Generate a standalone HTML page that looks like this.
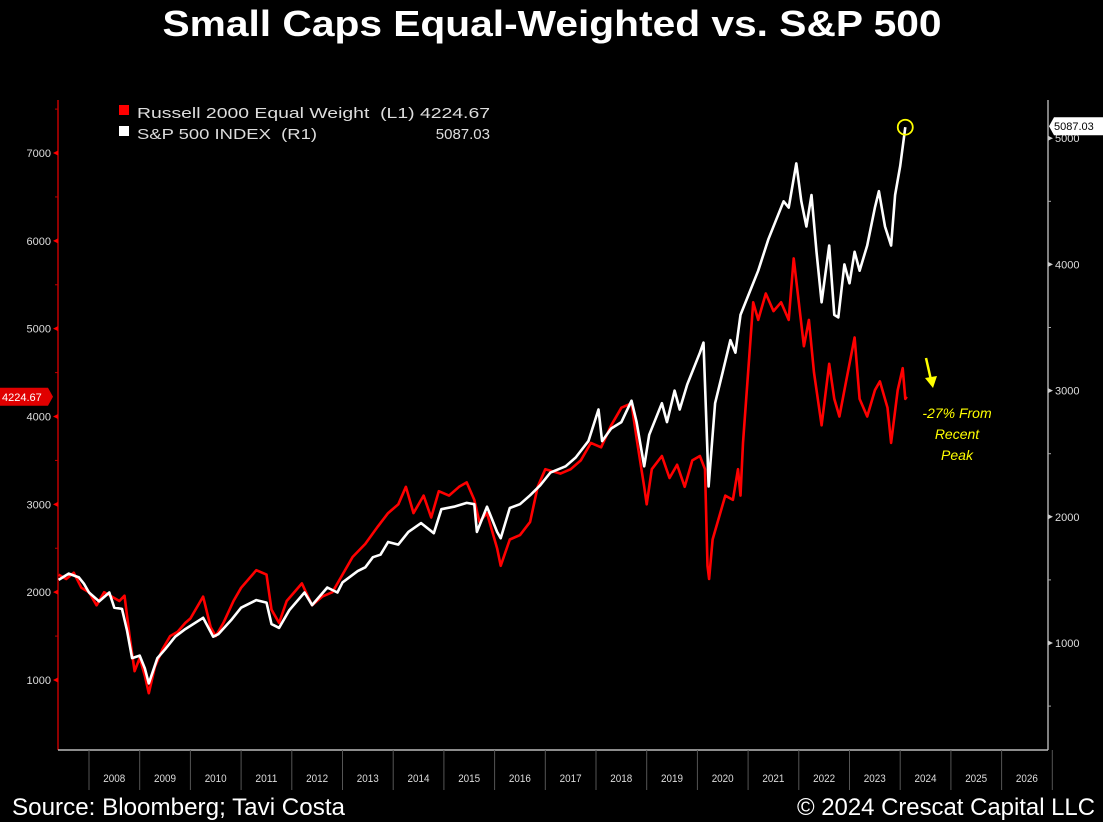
<!DOCTYPE html>
<html><head><meta charset="utf-8"><style>
html,body{margin:0;padding:0;background:#000;}
svg{display:block;}
text{font-family:"Liberation Sans",sans-serif;}
</style></head><body>
<svg id="chart" width="1103" height="822" viewBox="0 0 1103 822">
<rect x="0" y="0" width="1103" height="822" fill="#000"/>
<text x="552" y="36" text-anchor="middle" fill="#fff" font-size="36" font-weight="bold" textLength="779" lengthAdjust="spacingAndGlyphs">Small Caps Equal-Weighted vs. S&amp;P 500</text>
<g id="axes"></g>
<g id="series"></g>
<g>
<rect x="119" y="105" width="10" height="10" fill="#ff0000"/>
<text x="137" y="118" fill="#ddd" font-size="15" textLength="353" lengthAdjust="spacingAndGlyphs" xml:space="preserve">Russell 2000 Equal Weight  (L1) 4224.67</text>
<rect x="119" y="126" width="10" height="10" fill="#fff"/>
<text x="137" y="139" fill="#ddd" font-size="15" textLength="180" lengthAdjust="spacingAndGlyphs" xml:space="preserve">S&amp;P 500 INDEX  (R1)</text>
<text x="490" y="139" fill="#ddd" font-size="15" text-anchor="end">5087.03</text>
</g>
<g>
<line x1="926" y1="358" x2="931" y2="380" stroke="#ffff00" stroke-width="2.5"/>
<polygon points="925,378 937,376 933,388" fill="#ffff00"/>
<text x="957" y="418" fill="#ffff00" font-size="14" font-style="italic" text-anchor="middle">-27% From</text>
<text x="957" y="439" fill="#ffff00" font-size="14" font-style="italic" text-anchor="middle">Recent</text>
<text x="957" y="460" fill="#ffff00" font-size="14" font-style="italic" text-anchor="middle">Peak</text>
</g>
<text x="12" y="815" fill="#fff" font-size="24" textLength="333" lengthAdjust="spacingAndGlyphs">Source: Bloomberg; Tavi Costa</text>
<text x="1095" y="815" fill="#fff" font-size="24" text-anchor="end" textLength="298" lengthAdjust="spacingAndGlyphs">© 2024 Crescat Capital LLC</text>
</svg>
<script>
const years = [2008,2009,2010,2011,2012,2013,2014,2015,2016,2017,2018,2019,2020,2021,2022,2023,2024,2025,2026];
const leftTicks = [1000,2000,3000,4000,5000,6000,7000];
const rightTicks = [1000,2000,3000,4000,5000];
const russellLast = 4224.67;
const spLast = 5087.03;
const russellDates = [2007.4,2007.55,2007.7,2007.85,2008.0,2008.15,2008.3,2008.45,2008.6,2008.7,2008.8,2008.9,2009.0,2009.1,2009.18,2009.3,2009.45,2009.6,2009.75,2009.9,2010.0,2010.25,2010.4,2010.5,2010.65,2010.85,2011.0,2011.3,2011.5,2011.6,2011.75,2011.9,2012.2,2012.4,2012.6,2012.8,2013.0,2013.2,2013.45,2013.7,2013.9,2014.1,2014.25,2014.4,2014.6,2014.75,2014.9,2015.1,2015.3,2015.45,2015.6,2015.7,2015.85,2016.05,2016.12,2016.3,2016.5,2016.7,2016.85,2017.0,2017.3,2017.5,2017.7,2017.9,2018.1,2018.3,2018.5,2018.7,2018.8,2018.95,2019.0,2019.1,2019.3,2019.45,2019.6,2019.75,2019.9,2020.05,2020.15,2020.2,2020.23,2020.3,2020.4,2020.55,2020.7,2020.8,2020.85,2020.9,2021.0,2021.1,2021.2,2021.35,2021.5,2021.65,2021.8,2021.9,2022.0,2022.1,2022.2,2022.3,2022.45,2022.6,2022.7,2022.8,2022.9,2023.0,2023.1,2023.2,2023.35,2023.5,2023.6,2023.75,2023.82,2023.95,2024.05,2024.1,2024.13];
const russellValues = [2200,2150,2220,2050,2000,1850,2000,1950,1900,1960,1500,1100,1250,1050,850,1150,1350,1500,1550,1650,1700,1950,1600,1500,1650,1900,2050,2250,2200,1800,1650,1900,2100,1850,1950,2000,2200,2400,2550,2750,2900,3000,3200,2900,3100,2850,3150,3100,3200,3250,3050,2800,2900,2500,2300,2600,2650,2800,3200,3400,3350,3400,3500,3700,3650,3900,4100,4150,3750,3200,3000,3400,3550,3300,3450,3200,3500,3550,3400,2300,2150,2600,2800,3100,3050,3400,3100,3700,4500,5300,5100,5400,5200,5300,5100,5800,5300,4800,5100,4500,3900,4600,4200,4000,4300,4600,4900,4200,4000,4300,4400,4100,3700,4300,4550,4200,4224.67];
const spDates = [2007.4,2007.6,2007.8,2007.9,2008.0,2008.2,2008.4,2008.5,2008.65,2008.75,2008.85,2009.0,2009.1,2009.18,2009.35,2009.5,2009.7,2009.9,2010.25,2010.45,2010.55,2010.8,2011.0,2011.3,2011.5,2011.6,2011.75,2011.95,2012.25,2012.4,2012.7,2012.9,2013.0,2013.3,2013.45,2013.6,2013.75,2013.9,2014.1,2014.3,2014.55,2014.8,2014.95,2015.2,2015.45,2015.6,2015.65,2015.85,2016.05,2016.12,2016.3,2016.5,2016.7,2016.9,2017.1,2017.4,2017.6,2017.85,2018.05,2018.12,2018.3,2018.5,2018.7,2018.8,2018.95,2019.05,2019.3,2019.4,2019.55,2019.65,2019.8,2020.05,2020.12,2020.2,2020.22,2020.35,2020.5,2020.65,2020.75,2020.85,2021.0,2021.2,2021.4,2021.55,2021.7,2021.8,2021.95,2022.05,2022.15,2022.25,2022.35,2022.45,2022.6,2022.7,2022.78,2022.9,2023.0,2023.1,2023.2,2023.35,2023.5,2023.58,2023.7,2023.82,2023.9,2024.0,2024.1];
const spValues = [1500,1550,1520,1470,1400,1330,1400,1280,1270,1100,880,900,800,680,880,950,1050,1110,1200,1050,1070,1180,1280,1340,1320,1150,1120,1260,1400,1300,1440,1400,1480,1570,1600,1680,1700,1800,1780,1880,1950,1870,2060,2080,2110,2100,1880,2080,1880,1830,2070,2100,2170,2250,2350,2400,2470,2600,2850,2600,2700,2750,2920,2750,2400,2650,2900,2750,3000,2850,3050,3300,3380,2500,2240,2900,3150,3400,3300,3600,3750,3950,4200,4350,4500,4450,4800,4500,4300,4550,4100,3700,4150,3600,3580,4000,3850,4100,3950,4150,4450,4580,4300,4150,4550,4780,5087.03];

const NS='http://www.w3.org/2000/svg';
const X0=58, X1=1048, YB=750, YT=100;
function xScale(t){return 89+(t-2008)*50.7;}
function yLeft(v){return 680-(v-1000)*0.08783;}
function yRight(v){return 643-(v-1000)*0.1262;}
function mk(tag,attrs,parent){const e=document.createElementNS(NS,tag);for(const k in attrs)e.setAttribute(k,attrs[k]);parent.appendChild(e);return e;}
const axes=document.getElementById('axes'), series=document.getElementById('series');

let el=mk('line',{x1:X0,y1:YT,x2:X0,y2:YB,stroke:'#c00000','stroke-width':1.5},axes);


el=mk('line',{x1:X1,y1:YT,x2:X1,y2:YB,stroke:'#aaa','stroke-width':1.5},axes);


el=mk('line',{x1:X0,y1:YB,x2:X1,y2:YB,stroke:'#bbb','stroke-width':1.5},axes);



leftTicks.forEach(v=>{
  const y=yLeft(v);
  let t=mk('polygon',{points:`${X0},${y-2.5} ${X0},${y+2.5} ${X0-5},${y}`,fill:'#ff0000'},axes);
  
  
  let l=mk('text',{x:X0-7,y:y+4,'text-anchor':'end',fill:'#ddd','font-size':11},axes);
  l.textContent=v;
  
  
  const ym=yLeft(v+500);
  if(ym>YT){let m=mk('line',{x1:X0-3,y1:ym,x2:X0,y2:ym,stroke:'#c00000'},axes);
  
  }
});
rightTicks.forEach(v=>{
  const y=yRight(v);
  let t=mk('polygon',{points:`${X1},${y-2.5} ${X1},${y+2.5} ${X1+5},${y}`,fill:'#ccc'},axes);
  
  
  let l=mk('text',{x:X1+7,y:y+4,fill:'#ddd','font-size':11},axes);
  l.textContent=v;
  
  
  const ym=yRight(v-500);
  if(ym<YB){let m=mk('line',{x1:X1,y1:ym,x2:X1+3,y2:ym,stroke:'#aaa'},axes);
  
  }
});
years.forEach(yr=>{
  const xs=xScale(yr);
  let s=mk('line',{x1:xs,y1:YB,x2:xs,y2:790,stroke:'#555','stroke-width':1},axes);
  
  
  let l=mk('text',{x:xs+25.3,y:782,'text-anchor':'middle',fill:'#ddd','font-size':11,textLength:22,lengthAdjust:'spacingAndGlyphs'},axes);
  l.textContent=yr;
  
  
});
let sEnd=mk('line',{x1:xScale(2027),y1:YB,x2:xScale(2027),y2:790,stroke:'#555'},axes);



function pathFrom(ds,vs,yf){return ds.map((d,i)=>(i?'L':'M')+xScale(d).toFixed(1)+','+yf(vs[i]).toFixed(1)).join(' ');}
let pr=mk('path',{d:pathFrom(russellDates,russellValues,yLeft),fill:'none',stroke:'#ff0000','stroke-width':2.6,'stroke-linejoin':'round'},series);


let ps=mk('path',{d:pathFrom(spDates,spValues,yRight),fill:'none',stroke:'#ffffff','stroke-width':2.6,'stroke-linejoin':'round'},series);



const lastSpX=xScale(spDates[spDates.length-1]), lastSpY=yRight(spLast);
let c=mk('circle',{cx:lastSpX,cy:lastSpY,r:7.5,fill:'none',stroke:'#ffff00','stroke-width':1.8},series);



const ry=yLeft(russellLast);
let rb=mk('polygon',{points:`0,${ry-9} 48,${ry-9} 53,${ry} 48,${ry+9} 0,${ry+9}`,fill:'#e00000'},axes);


let rt=mk('text',{x:2,y:ry+4,fill:'#fff','font-size':11},axes);
rt.textContent=russellLast.toFixed(2);


const sy=yRight(spLast)-1;
let sb=mk('polygon',{points:`${X1+1},${sy} ${X1+6},${sy-9} 1103,${sy-9} 1103,${sy+9} ${X1+6},${sy+9}`,fill:'#fff'},axes);


let st=mk('text',{x:X1+6,y:sy+4,fill:'#000','font-size':11},axes);
st.textContent=spLast.toFixed(2);


</script>
</body></html>
